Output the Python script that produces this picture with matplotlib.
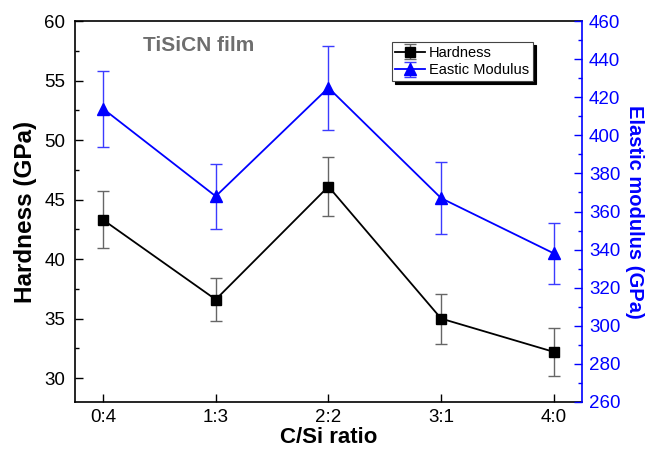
import numpy as np
import matplotlib
matplotlib.use("Agg")
from matplotlib import pyplot as plt
from matplotlib.ticker import MultipleLocator

plt.rcParams['font.family'] = ['Liberation Sans', 'DejaVu Sans']

# data
ratios = ['0:4', '1:3', '2:2', '3:1', '4:0']
hardness = [43.3, 36.6, 46.1, 35.0, 32.2]
hardness_err = [2.4, 1.8, 2.5, 2.1, 2.0]
modulus = [414, 368, 425, 367, 338]
modulus_err = [20, 17, 22, 19, 16]

x = np.arange(len(ratios))

fig = plt.figure(figsize=(6.51, 4.5), dpi=100)
ax = fig.add_axes([0.115, 0.107, 0.779, 0.846])
ax2 = ax.twinx()

h = ax.errorbar(x, hardness, yerr=hardness_err, color='black', marker='s', ms=7,
                lw=1.3, ecolor='#666666', elinewidth=1, capsize=4.5, capthick=1,
                label='Hardness')
m = ax2.errorbar(x, modulus, yerr=modulus_err, color='blue', marker='^', ms=9,
                 lw=1.3, ecolor='#3b3bff', elinewidth=1, capsize=4.5, capthick=1,
                 label='Eastic Modulus')

ax.set_xlim(-0.25, 4.25)
ax.set_ylim(28, 60)
ax2.set_ylim(260, 460)
ax.set_xticks(x)
ax.set_xticklabels(ratios)
ax.yaxis.set_major_locator(MultipleLocator(5))
ax.yaxis.set_minor_locator(MultipleLocator(2.5))
ax2.yaxis.set_major_locator(MultipleLocator(20))
ax2.yaxis.set_minor_locator(MultipleLocator(10))

ax.tick_params(axis='both', which='both', direction='in', labelsize=13.5)
ax.tick_params(axis='y', pad=7)
ax.tick_params(axis='x', pad=5)
ax.tick_params(which='major', length=5.5, width=1)
ax.tick_params(which='minor', length=3, width=1)
ax2.tick_params(axis='y', which='both', direction='in', labelsize=13.5,
                colors='blue', pad=5)
ax2.tick_params(which='major', length=5.5, width=1)
ax2.tick_params(which='minor', length=3, width=1)

ax2.spines['left'].set_visible(False)
ax2.spines['bottom'].set_visible(False)
ax2.spines['top'].set_visible(False)
ax2.spines['right'].set_color('blue')
ax.spines['right'].set_visible(False)
for s in ['left', 'bottom', 'top']:
    ax.spines[s].set_linewidth(1.2)
ax2.spines['right'].set_linewidth(1.2)

ax.set_xlabel('C/Si ratio', fontsize=16, fontweight='bold', labelpad=1)
ax.set_ylabel('Hardness (GPa)', fontsize=17.5, fontweight='bold', labelpad=5)
ax2.set_ylabel('Elastic modulus (GPa)', fontsize=14.5, fontweight='bold',
               color='blue', labelpad=3, rotation=270, va='bottom')

ax.text(0.134, 0.937, 'TiSiCN film', transform=ax.transAxes, fontsize=15,
        fontweight='bold', color='#6e6e6e', va='center')

leg = ax.legend([h, m], ['Hardness', 'Eastic Modulus'], loc='upper left',
                bbox_to_anchor=(0.625, 0.945), fontsize=10.5, frameon=True,
                fancybox=False, shadow={'color': 'black', 'alpha': 1},
                edgecolor='#444444', borderpad=0.25, handlelength=2.0,
                handletextpad=0.3, labelspacing=0.25, borderaxespad=0)
leg.get_frame().set_linewidth(0.8)

fig.savefig('out.png', dpi=100)
